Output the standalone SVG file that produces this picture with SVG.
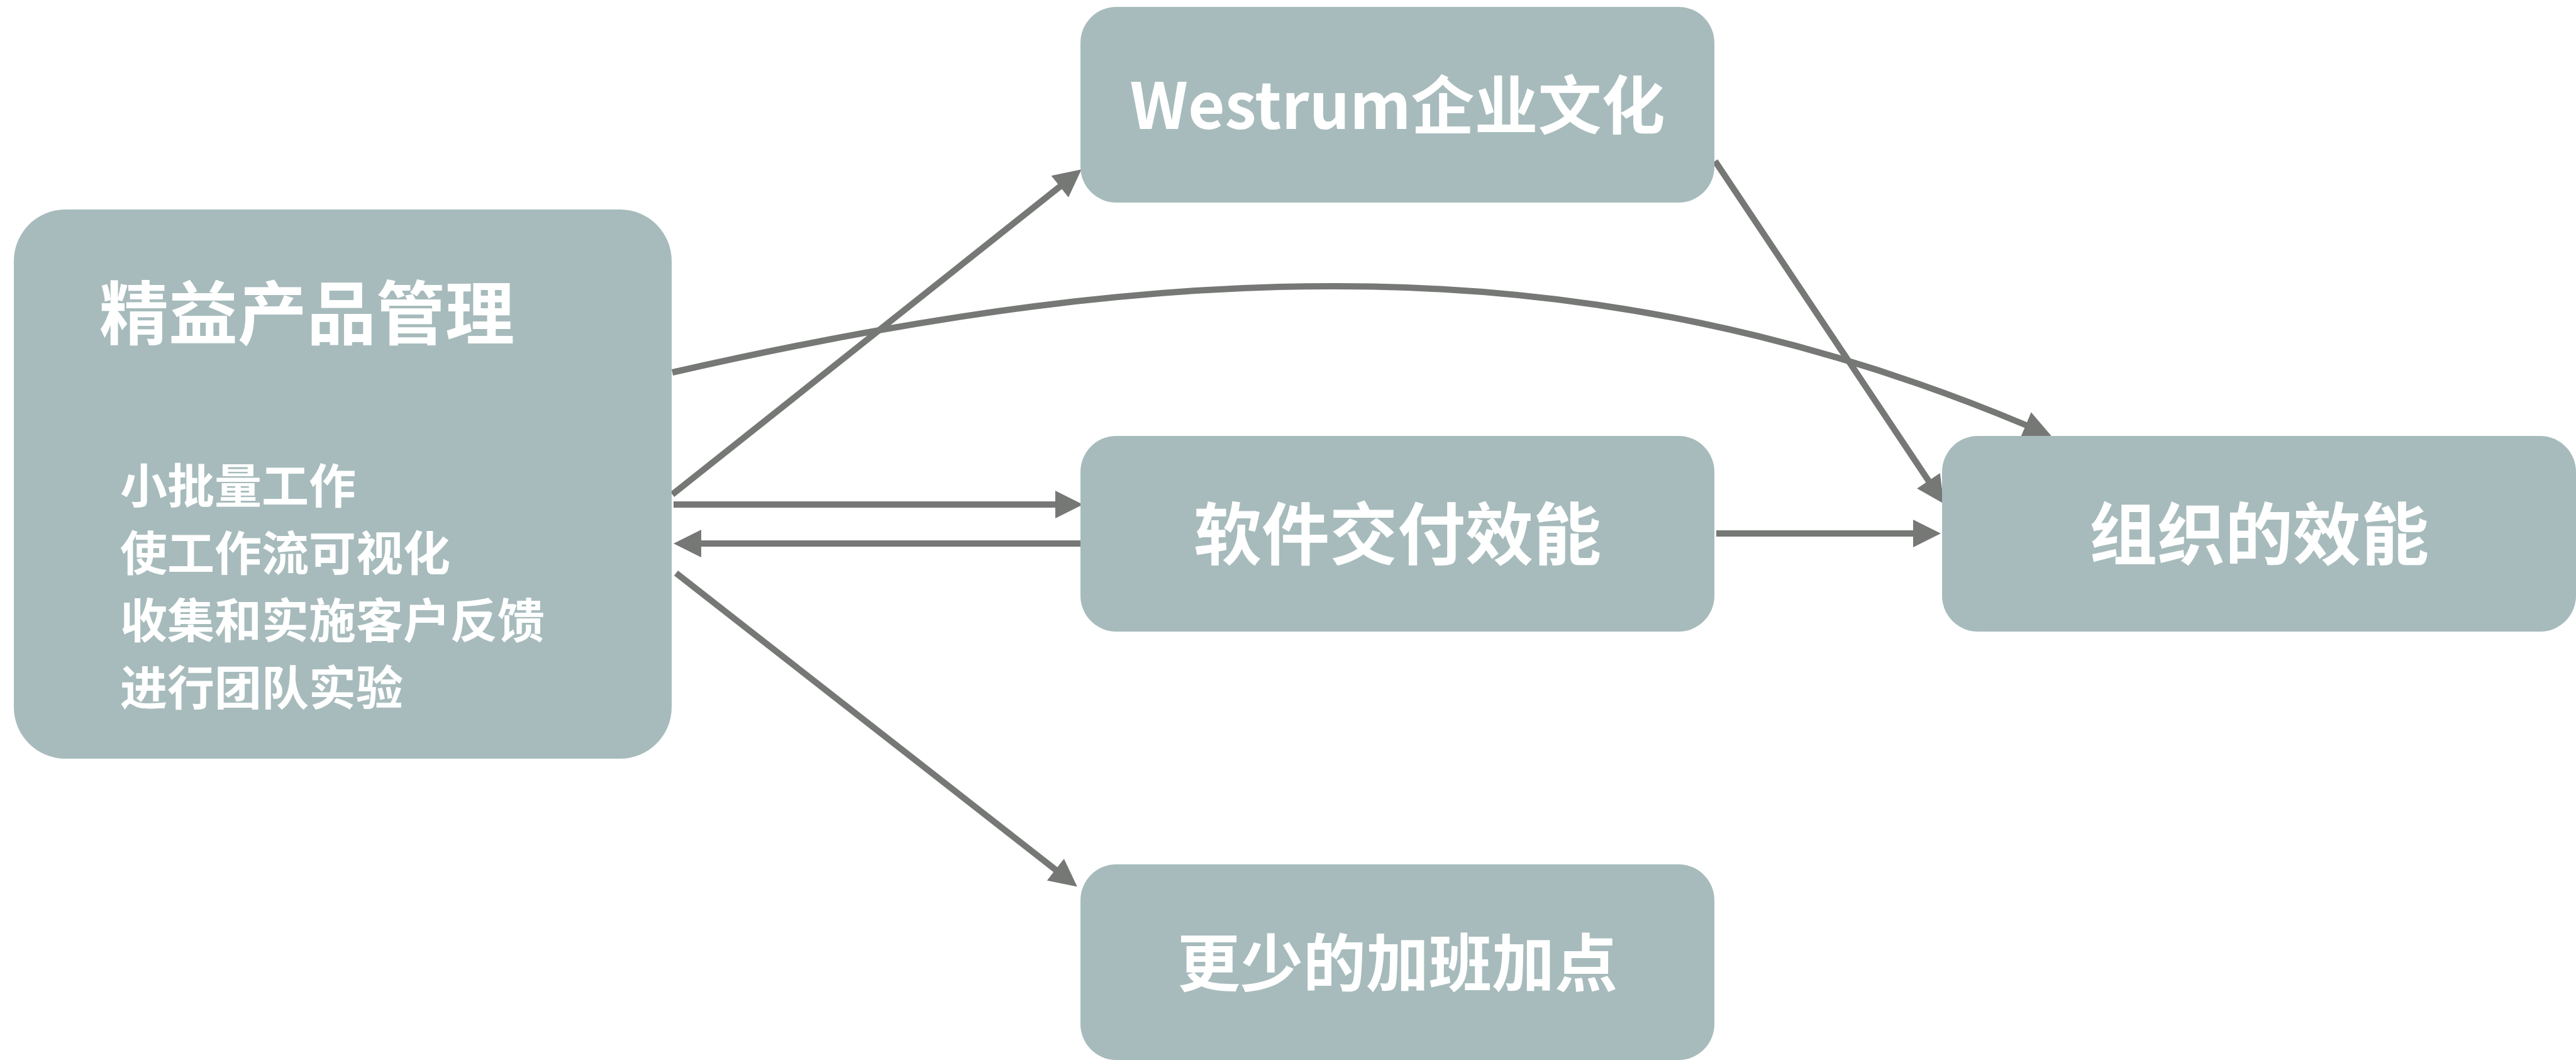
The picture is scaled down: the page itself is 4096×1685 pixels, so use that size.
<svg xmlns="http://www.w3.org/2000/svg" width="4096" height="1685" viewBox="0 0 4096 1685">
<style>
.box{fill:#a7bbbc}
.lbl{font-family:"Noto Sans CJK SC","Noto Sans",sans-serif;font-weight:bold;fill:#ffffff}
.big{font-size:108px;text-anchor:middle}
.title{font-size:110px}
.item{font-size:75px}
.con{fill:none;stroke:#767876;stroke-width:10}
</style>
<defs>
<marker id="ah" markerUnits="userSpaceOnUse" viewBox="0 0 44 44" refX="1" refY="22" markerWidth="44" markerHeight="44" orient="auto">
<path d="M0,0 L44,22 L0,44 Z" fill="#767876"/>
</marker>
</defs>
<g id="connectors">
<line class="con" x1="1069" y1="786" x2="1686" y2="296" marker-end="url(#ah)"/>
<path class="con" d="M1069,592 C1869,410 2521,382 3222,676" marker-end="url(#ah)"/>
<line class="con" x1="2727" y1="256" x2="3067" y2="765" marker-end="url(#ah)"/>
<line class="con" x1="2729" y1="848" x2="3043" y2="848" marker-end="url(#ah)"/>
<line class="con" x1="1071" y1="802" x2="1679" y2="802" marker-end="url(#ah)"/>
<line class="con" x1="1722" y1="864" x2="1114" y2="864" marker-end="url(#ah)"/>
<line class="con" x1="1075" y1="911" x2="1679" y2="1383" marker-end="url(#ah)"/>
</g>
<g id="lean">
<rect class="box" x="22" y="333" width="1046" height="873" rx="82" ry="82"/>
<text class="lbl title" x="158" y="539">精益产品管理</text>
<text class="lbl item" x="191" y="800">小批量工作</text>
<text class="lbl item" x="191" y="907">使工作流可视化</text>
<text class="lbl item" x="191" y="1014">收集和实施客户反馈</text>
<text class="lbl item" x="191" y="1121">进行团队实验</text>
</g>
<g id="westrum">
<rect class="box" x="1718" y="11" width="1008" height="311" rx="57" ry="57"/>
<text class="lbl big" x="2222" y="205" style="font-size:101px">Westrum企业文化</text>
</g>
<g id="delivery">
<rect class="box" x="1718" y="693" width="1008" height="311" rx="57" ry="57"/>
<text class="lbl big" x="2222" y="889">软件交付效能</text>
</g>
<g id="org">
<rect class="box" x="3088" y="693" width="1008" height="311" rx="57" ry="57"/>
<text class="lbl big" x="3592" y="889">组织的效能</text>
</g>
<g id="overtime">
<rect class="box" x="1718" y="1374" width="1008" height="311" rx="57" ry="57"/>
<text class="lbl big" x="2222" y="1568" style="font-size:100px">更少的加班加点</text>
</g>
</svg>
